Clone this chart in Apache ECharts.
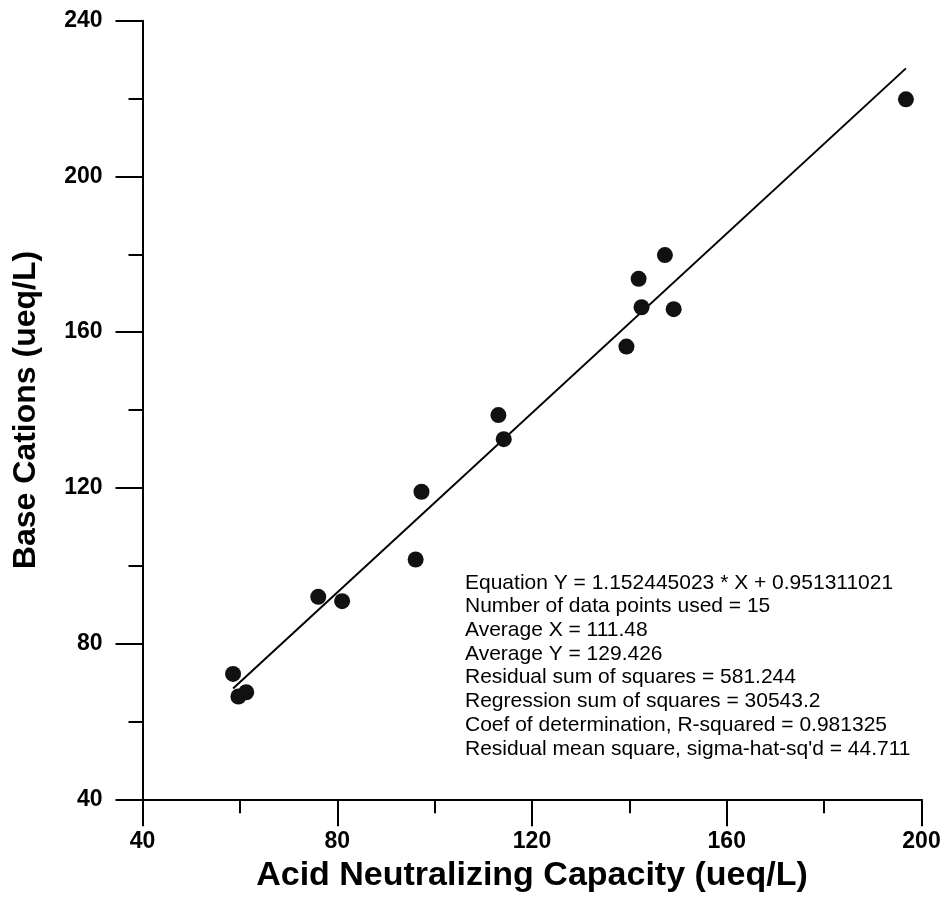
<!DOCTYPE html>
<html>
<head>
<meta charset="utf-8">
<script src="https://cdn.jsdelivr.net/npm/echarts@6/dist/echarts.min.js"></script>
<style>
html,body{margin:0;padding:0;background:#fff;}
#chart{width:945px;height:903px;}
</style>
</head>
<body>
<div id="chart"></div>
<script>
// Data
const ancValues = [58.6, 59.7, 61.3, 76.1, 81.0, 96.1, 97.3, 113.1, 114.2, 139.4, 141.9, 142.5, 147.3, 149.1, 196.8];
const baseCations = [72.2, 66.4, 67.5, 92.0, 90.9, 101.6, 119.0, 138.7, 132.5, 156.3, 173.7, 166.4, 179.8, 165.9, 219.8];
const fitSlope = 1.152445023;
const fitIntercept = 0.951311021;
const xTicks = [40, 80, 120, 160, 200];
const yTicks = [40, 80, 120, 160, 200, 240];
const statLines = [
  "Equation Y = 1.152445023 * X + 0.951311021",
  "Number of data points used = 15",
  "Average X = 111.48",
  "Average Y = 129.426",
  "Residual sum of squares = 581.244",
  "Regression sum of squares = 30543.2",
  "Coef of determination, R-squared = 0.981325",
  "Residual mean square, sigma-hat-sq'd = 44.711"
];

const points = ancValues.map((x, i) => [x, baseCations[i]]);
const xMin = Math.min(...ancValues), xMax = Math.max(...ancValues);
const fitLine = [[xMin, fitSlope * xMin + fitIntercept], [xMax, fitSlope * xMax + fitIntercept]];

const chart = echarts.init(document.getElementById('chart'), null, {renderer: 'canvas'});
const FONT = '"Liberation Sans", Arial, sans-serif';
const axisCommon = {
  axisLine: {show: true, onZero: false, lineStyle: {color: '#000', width: 2}},
  axisTick: {show: true, inside: false, length: 27, lineStyle: {color: '#000', width: 2}},
  minorTick: {show: true, splitNumber: 2, length: 14, lineStyle: {color: '#000', width: 2}},
  splitLine: {show: false}
};
chart.setOption({
  animation: false,
  backgroundColor: '#fff',
  grid: {left: 142.5, right: 23.5, top: 20.7, bottom: 103.7, containLabel: false},
  xAxis: Object.assign({}, axisCommon, {
    type: 'value', min: xTicks[0], max: xTicks[xTicks.length - 1], interval: 40,
    name: 'Acid Neutralizing Capacity (ueq/L)', nameLocation: 'middle', nameGap: 48,
    nameTextStyle: {fontFamily: FONT, fontWeight: 'bold', fontSize: 34, color: '#000'},
    axisLabel: {margin: 31, fontFamily: FONT, fontWeight: 'bold', fontSize: 23, color: '#000'}
  }),
  yAxis: Object.assign({}, axisCommon, {
    type: 'value', min: yTicks[0], max: yTicks[yTicks.length - 1], interval: 40,
    name: 'Base Cations (ueq/L)', nameLocation: 'middle', nameGap: 100,
    nameTextStyle: {fontFamily: FONT, fontWeight: 'bold', fontSize: 32, color: '#000'},
    axisLabel: {margin: 40, fontFamily: FONT, fontWeight: 'bold', fontSize: 23, color: '#000'}
  }),
  series: [
    {type: 'line', data: fitLine, symbol: 'none', lineStyle: {color: '#000', width: 2}, z: 2},
    {type: 'scatter', data: points, symbol: 'circle', symbolSize: 16, itemStyle: {color: '#111', opacity: 1}, z: 3}
  ],
  graphic: [{
    type: 'text', left: 465, top: 571,
    style: {text: statLines.join('\n'), font: '21px ' + FONT, fill: '#000', lineHeight: 23.7}
  }]
});
</script>
</body>
</html>
